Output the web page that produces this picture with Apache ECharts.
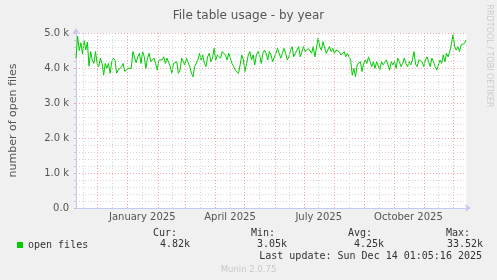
<!DOCTYPE html>
<html><head><meta charset="utf-8">
<script src="https://cdn.jsdelivr.net/npm/echarts@6/dist/echarts.min.js"></script>
<style>html,body{margin:0;padding:0;background:#f0f0f0;} #c{width:497px;height:280px;}</style>
</head><body><div id="c"></div>
<script>
const chartTitle = 'File table usage - by year';
const yAxisName = 'number of open files';
const seriesName = 'open files';
const endTime = '2025-12-14T01:05:16Z';
const spanDays = 400;
const stepHours = 40;
// open files, one reading every 40 hours across the 400-day window
const openFiles = [
4280,4910,4500,4720,4400,4780,4520,4740,4050,4470,
4230,4130,4470,4130,4040,4280,4130,3800,4130,3990,
4130,3850,4180,4280,4220,3850,3940,3900,4040,4130,
3900,3940,3990,4040,3990,4470,4510,4150,4320,4420,
4130,4470,4320,3990,4280,4420,4180,4230,4280,4130,
3940,4230,4280,4230,4320,4130,4280,4230,4040,3850,
4130,4090,4180,3850,3940,4280,4230,4090,4280,4230,
4040,3850,3750,4040,3990,4230,4420,4230,4370,4130,
4040,4320,4420,4180,4280,4560,4230,4370,4420,4280,
4470,4510,4370,4230,4420,4370,4130,4040,3940,3940,
3850,4090,4370,4230,3900,4130,4370,4470,4230,4370,
4090,4370,4470,4370,4130,4420,4510,4420,4230,4470,
4370,4180,4130,4420,4560,4420,4280,4420,4560,4420,
4230,4320,4510,4610,4320,4420,4470,4610,4320,4280,
4610,4470,4420,4560,4510,4420,4610,4320,4320,4850,
4610,4510,4750,4800,4420,4370,4610,4470,4560,4420,
4510,4510,4470,4370,4420,4470,4320,4420,4320,4230,
3800,3990,3750,4090,4040,4180,3900,4130,4230,4130,
4320,4180,4040,4180,3990,4180,4130,3940,4180,4090,
4040,4230,4280,3940,4180,4090,4180,3990,4280,4180,
4040,4130,4280,4130,4040,4180,4090,4230,4470,4100,
4040,4230,4280,4180,4040,4230,4320,4180,4040,4280,
4180,4040,3940,3900,4230,4130,4370,4180,4420,4320,
4470,4680,4950,4620,4510,4610,4470,4660,4660,4700,
4800
];
const monthGridDates = ['2024-12-01','2025-01-01','2025-02-01','2025-03-01','2025-04-01','2025-05-01','2025-06-01','2025-07-01','2025-08-01','2025-09-01','2025-10-01','2025-11-01','2025-12-01'];
const midMonthGridDates = ['2024-11-16','2024-12-16','2025-01-16','2025-02-16','2025-03-16','2025-04-16','2025-05-16','2025-06-16','2025-07-16','2025-08-16','2025-09-16','2025-10-16','2025-11-16'];
const xLabelDates = ['2025-01-16','2025-04-16','2025-07-16','2025-10-16'];
const xLabelTexts = ['January 2025','April 2025','July 2025','October 2025'];
const yMin = 0, yMax = 5000, yInterval = 1000;
const statHeaders = ['Cur:','Min:','Avg:','Max:'];
const statValues = ['4.82k','3.05k','4.25k','33.52k'];
const lastUpdate = 'Last update: Sun Dec 14 01:05:16 2025';
const footerText = 'Munin 2.0.75';
const sideText = 'RRDTOOL / TOBI OETIKER';

const DAY = 86400000;
const endTs = Date.parse(endTime);
const startTs = endTs - spanDays * DAY;
const stepMs = stepHours * 3600000;
const seriesData = openFiles.map((v, i) => [startTs + i * stepMs, v]);
const ts = d => Date.parse(d + 'T00:00:00Z');

const sans = 'DejaVu Sans';
const mono = 'DejaVu Sans Mono';
const axisColor = '#c4c8f4';

const headerRight = [177, 275, 372, 470];
const valueRight = [190, 287, 384, 483];
const graphics = [];
statHeaders.forEach((t, i) => graphics.push({type:'text', x: headerRight[i], y: 233, style:{text:t, fill:'#333', font:'10px ' + mono, textAlign:'right', textVerticalAlign:'middle'}}));
statValues.forEach((t, i) => graphics.push({type:'text', x: valueRight[i], y: 244.5, style:{text:t, fill:'#333', font:'10px ' + mono, textAlign:'right', textVerticalAlign:'middle'}}));
graphics.push({type:'text', x: 482, y: 256, style:{text:lastUpdate, fill:'#333', font:'10px ' + mono, textAlign:'right', textVerticalAlign:'middle'}});
graphics.push({type:'text', x: 248.5, y: 269.5, style:{text:footerText, fill:'#c8c8c8', font:'8.5px ' + sans, textAlign:'center', textVerticalAlign:'middle'}});
graphics.push({type:'text', x: 489, y: 56, rotation: -Math.PI/2, style:{text:sideText, fill:'#cccccc', font:'8px ' + sans, textAlign:'center', textVerticalAlign:'middle'}});

const chart = echarts.init(document.getElementById('c'), null, {renderer:'canvas'});
chart.setOption({
  animation: false,
  backgroundColor: '#f0f0f0',
  title: {text: chartTitle, left: 'center', top: 5, textStyle: {fontFamily: sans, fontSize: 12, fontWeight: 'normal', color: '#555'}},
  legend: {data: [seriesName], left: 12, top: 235, icon: 'rect', itemWidth: 6, itemHeight: 6, itemGap: 5,
    textStyle: {fontFamily: mono, fontSize: 10, color: '#333'}},
  graphic: graphics,
  grid: {left: 66, top: 33, width: 400, height: 175, show: true, backgroundColor: '#ffffff', borderWidth: 0},
  xAxis: {type: 'time', min: startTs, max: endTs,
    axisLine: {show: true, lineStyle: {color: axisColor, width: 1}, symbol: ['none','arrow'], symbolSize: [6, 6], symbolOffset: [0, 5]},
    axisTick: {show: false}, axisLabel: {show: false}, splitLine: {show: false}},
  yAxis: {type: 'value', min: yMin, max: yMax, interval: yInterval,
    name: yAxisName, nameLocation: 'middle', nameRotate: 90, nameGap: 57,
    nameTextStyle: {fontFamily: sans, fontSize: 11, color: '#555'},
    axisLine: {show: true, lineStyle: {color: axisColor, width: 1}, symbol: ['none','arrow'], symbolSize: [6, 6], symbolOffset: [0, 5]},
    axisTick: {show: true, length: 2, lineStyle: {color: '#f0a8a8'}},
    axisLabel: {fontFamily: sans, fontSize: 10, color: '#555', margin: 7,
      formatter: v => v === 0 ? '0.0' : (v / 1000).toFixed(1) + ' k'},
    splitLine: {show: true, lineStyle: {color: '#f0a8a8', type: [1, 2], width: 1}},
    minorTick: {show: true, splitNumber: 5, length: 2, lineStyle: {color: '#c8c8c8'}},
    minorSplitLine: {show: true, lineStyle: {color: '#d4d4d4', type: [1, 2], width: 1}}},
  series: [
    {type: 'line', name: 'grid', z: 1, silent: true, data: [], symbol: 'none', legendHoverLink: false,
      markLine: {silent: true, symbol: 'none', animation: false, label: {show: false},
        lineStyle: {color: '#d4d4d4', type: [1, 2], width: 1},
        data: midMonthGridDates.map(d => ({xAxis: ts(d)}))}},
    {type: 'line', name: 'grid2', z: 1, silent: true, data: [], symbol: 'none',
      markLine: {silent: true, symbol: 'none', animation: false, label: {show: false},
        lineStyle: {color: '#f0a8a8', type: [1, 2], width: 1},
        data: monthGridDates.map(d => ({xAxis: ts(d)}))}},
    {type: 'line', name: 'labels', z: 1, silent: true, data: [], symbol: 'none',
      markLine: {silent: true, symbol: 'none', animation: false,
        label: {show: true, position: 'start', formatter: '{b}', fontFamily: sans, fontSize: 10, color: '#555', distance: 4},
        lineStyle: {color: 'rgba(0,0,0,0)', width: 1},
        data: xLabelDates.map((d, i) => ({xAxis: ts(d), name: xLabelTexts[i]}))}},
    {type: 'line', name: seriesName, z: 3, data: seriesData, showSymbol: false, symbol: 'none',
      lineStyle: {color: '#00cc00', width: 1}, itemStyle: {color: '#00cc00'}}
  ]
});
</script></body></html>
